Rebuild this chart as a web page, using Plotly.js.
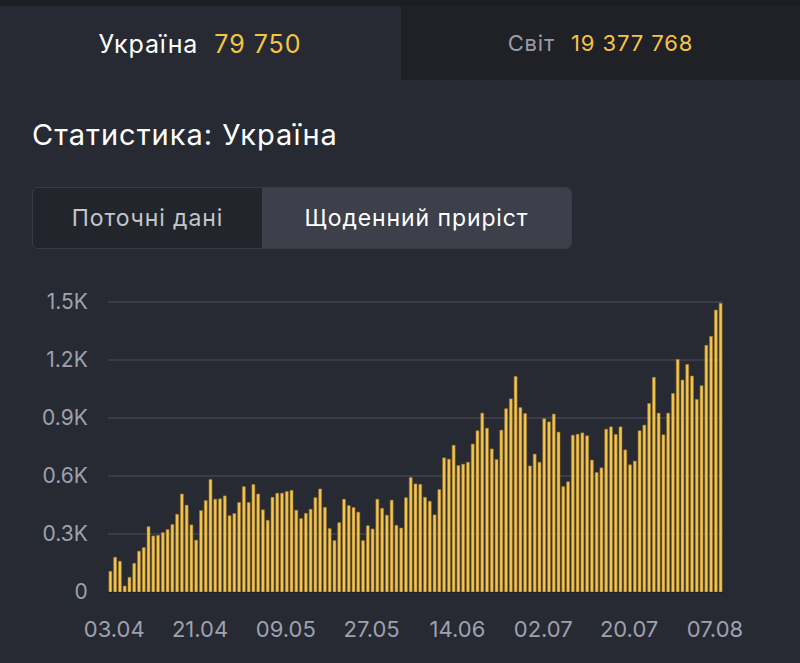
<!DOCTYPE html>
<html>
<head>
<meta charset="utf-8">
<script src="https://cdn.plot.ly/plotly-3.0.1.min.js"></script>
<style>
  html, body { margin:0; padding:0; width:800px; height:663px; overflow:hidden; background:#272a33; font-family: Inter, Roboto, "Noto Sans", sans-serif; }
  #chart { position:absolute; left:0; top:0; width:800px; height:663px; }
  .ov { position:absolute; z-index:5; pointer-events:none; }
  #topstrip { left:0; top:0; width:800px; height:6px; background:#1d1e23; }
  #tabL { left:0; top:6px; width:400px; height:76px; display:flex; align-items:center; justify-content:center; }
  #tabR { left:401px; top:6px; width:399px; height:74px; background:#202127; display:flex; align-items:center; justify-content:center; }
  .tname { font-size:25px; color:#ffffff; letter-spacing:0.9px; }
  .tnameR { font-size:22px; color:#9a9ca5; letter-spacing:0.8px; }
  .tnum { font-size:25px; color:#f6c445; margin-left:16px; letter-spacing:1px; }
  .tnumR { font-size:22px; color:#f6c445; margin-left:16px; letter-spacing:0.9px; }
  #title { left:32px; top:116px; font-size:29px; color:#ffffff; line-height:38px; letter-spacing:1px; }
  #toggle { left:32px; top:187px; width:538px; height:60px; border:1px solid #3a3d48; border-radius:6px; overflow:hidden; display:flex; }
  #tgL { width:229px; height:100%; background:#22252c; display:flex; align-items:center; justify-content:center; color:#c3c5cd; font-size:23px; letter-spacing:0.9px; }
  #tgR { flex:1; height:100%; background:#3d3f4b; display:flex; align-items:center; justify-content:center; color:#ffffff; font-size:23px; letter-spacing:0.9px; }
</style>
</head>
<body>
<div id="chart"></div>
<div class="ov" id="topstrip"></div>
<div class="ov" id="tabL"><span class="tname">Україна</span><span class="tnum">79 750</span></div>
<div class="ov" id="tabR"><span class="tnameR">Світ</span><span class="tnumR">19 377 768</span></div>
<div class="ov" id="title">Статистика: Україна</div>
<div class="ov" id="toggle"><div id="tgL">Поточні дані</div><div id="tgR">Щоденний приріст</div></div>
<script>
// Daily new cases, Ukraine, 03.04 .. 09.08
const startDate = '2020-04-03';
const dailyCases = [
  107,180,159,31,76,148,211,230,338,290,293,307,323,349,402,507,449,347,268,421,473,
  582,480,482,497,395,406,463,545,463,556,507,425,371,490,511,511,520,526,423,380,407,428,
  488,533,438,328,266,359,480,447,437,413,266,343,326,480,433,397,475,345,331,488,592,559,
  557,490,469,399,530,694,687,759,654,661,671,765,834,925,847,740,685,837,948,999,1115,954,
  923,652,713,671,896,880,920,827,545,570,811,816,823,808,682,618,642,842,854,815,854,735,
  658,677,834,863,975,1110,925,813,925,1027,1203,1096,1177,1117,996,1067,1276,1322,1458,1493
];
const xTickDates = ['2020-04-03','2020-04-21','2020-05-09','2020-05-27','2020-06-14','2020-07-02','2020-07-20','2020-08-07'];
const xTickLabels = ['03.04','21.04','09.05','27.05','14.06','02.07','20.07','07.08'];
const yTickValues = [0,300,600,900,1200,1500];
const yTickLabels = ['0','0.3K','0.6K','0.9K','1.2K','1.5K'];

const DAY = 86400000;
const labelShift = 0.8 * DAY; // labels sit slightly right of their bar in the original
const dates = [];
const d0 = new Date(startDate + 'T00:00:00Z');
for (let i = 0; i < dailyCases.length; i++) {
  dates.push(new Date(d0.getTime() + i * DAY).toISOString().slice(0,10));
}
const toStr = t => new Date(t).toISOString().slice(0,19).replace('T',' ');
const last = d0.getTime() + (dailyCases.length - 1) * DAY;
const rangeStart = toStr(d0.getTime() - DAY / 2);
const rangeEnd = toStr(last + DAY / 2);
const tickPos = xTickDates.map(s => toStr(new Date(s + 'T00:00:00Z').getTime() + labelShift));

const trace = {
  type:'bar', x:dates, y:dailyCases,
  marker:{ color:'#f4c650', line:{ color:'#9a7328', width:0.6 } },
  hoverinfo:'none'
};
const layout = {
  width:800, height:663,
  margin:{ l:108, r:77, t:300, b:71 },
  paper_bgcolor:'#272a33', plot_bgcolor:'#272a33',
  bargap:0.38,
  showlegend:false,
  font:{ family:'Inter, Roboto, "Noto Sans", sans-serif', color:'#9ea1ae', size:20 },
  xaxis:{
    type:'date', range:[rangeStart, rangeEnd],
    tickvals:tickPos, ticktext:xTickLabels,
    showgrid:false, zeroline:false, showline:false,
    ticks:'outside', ticklen:18, tickcolor:'rgba(0,0,0,0)',
    tickfont:{ size:22, color:'#9ea1ae' }
  },
  yaxis:{
    range:[0,1510],
    tickvals:yTickValues, ticktext:yTickLabels,
    showgrid:true, gridcolor:'#3a3d48', gridwidth:1.5,
    zeroline:true, zerolinecolor:'#1f2128', zerolinewidth:1.5,
    showline:false,
    ticks:'outside', ticklen:15, tickcolor:'rgba(0,0,0,0)',
    tickfont:{ size:21, color:'#9ea1ae' }
  }
};
Plotly.newPlot('chart', [trace], layout, { staticPlot:true, displayModeBar:false });
</script>
</body>
</html>
